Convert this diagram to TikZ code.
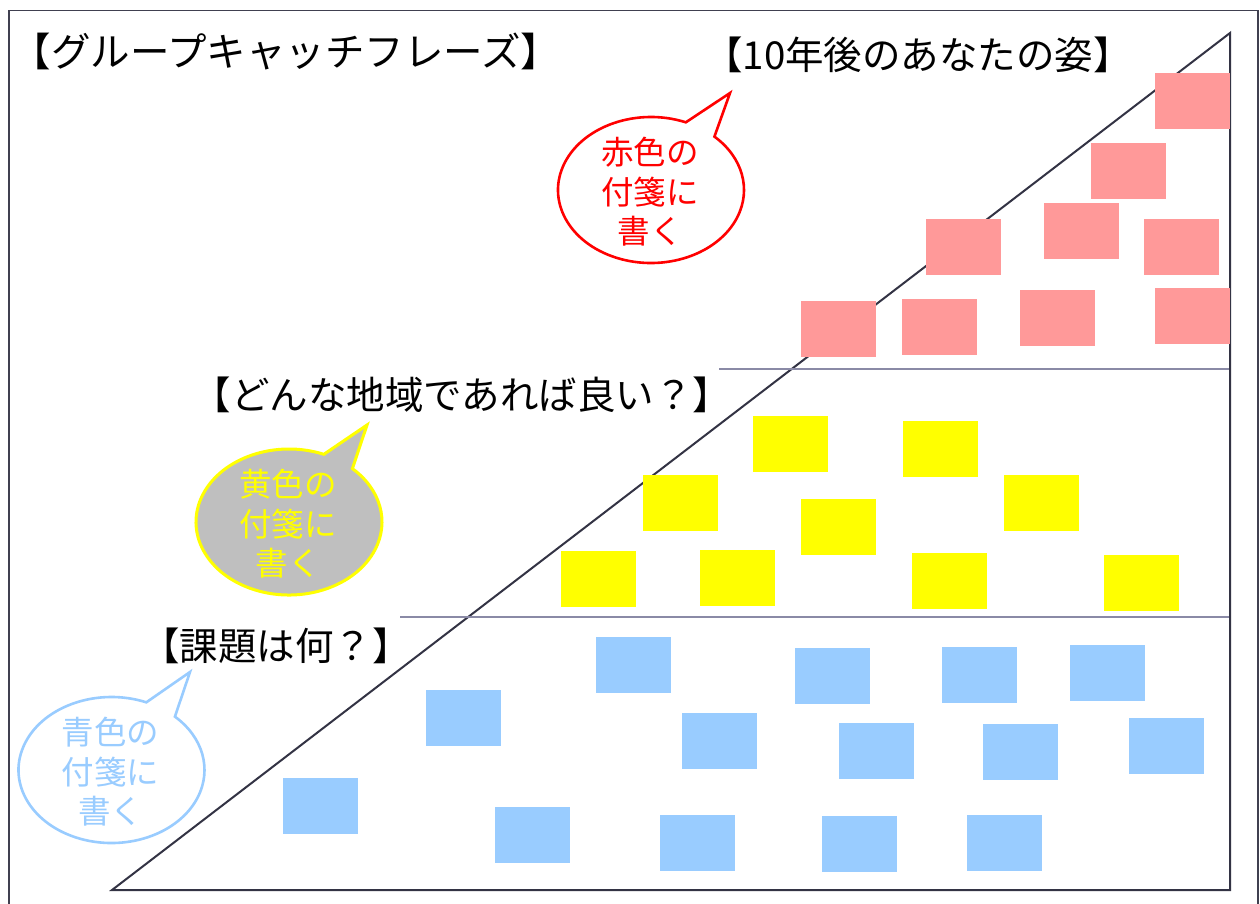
\documentclass[tikz,border=0pt]{standalone}
\usepackage{fontspec}
\newfontfamily\jp{Noto Sans CJK JP}
\usetikzlibrary{calc}
\definecolor{framec}{HTML}{404050}
\definecolor{tric}{HTML}{333344}
\definecolor{hlc}{HTML}{8A8AA6}
\definecolor{notered}{HTML}{FF9999}
\definecolor{noteyellow}{HTML}{FFFF00}
\definecolor{noteblue}{HTML}{99CCFF}
\definecolor{bubblegray}{HTML}{BFBFBF}
\tikzset{
  note/.style={anchor=north west, minimum width=75pt, minimum height=56pt, inner sep=0pt, draw=none},
  rnote/.style={note, fill=notered},
  ynote/.style={note, fill=noteyellow},
  bnote/.style={note, fill=noteblue},
  heading/.style={inner sep=0pt, font=\jp\fontsize{38.5}{44}\selectfont},
  titletext/.style={inner sep=0pt, font=\jp\fontsize{39.5}{46}\selectfont},
  bubbletext/.style={inner sep=0pt, align=center, font=\jp\fontsize{32.5}{39.5}\selectfont},
}
\begin{document}
\begin{tikzpicture}[x=1pt,y=-1pt]
\useasboundingbox (0,0) rectangle (1260,903);
\clip (0,0) rectangle (1260,903);
\fill[white] (0,0) rectangle (1260,903);
% frame
\draw[framec, line width=1.5pt] (9,10.5) rectangle (1258,930);
% triangle
\coordinate (tA) at (1230,33);
\coordinate (tB) at (112,890);
\coordinate (tC) at (1230,890);
\draw[tric, line width=2pt, line join=miter] (tA) -- (tB) -- (tC) -- cycle;
% horizontal dividers
\coordinate (h1a) at (719,369);
\coordinate (h1b) at (1229,369);
\coordinate (h2a) at (400,617);
\coordinate (h2b) at (1229,617);
\draw[hlc, line width=1.4pt] (h1a) -- (h1b);
\draw[hlc, line width=1.4pt] (h2a) -- (h2b);
% red notes
\node[rnote] (r1) at (1155,73) {};
\node[rnote] (r2) at (1091,143) {};
\node[rnote] (r3) at (1044,203) {};
\node[rnote] (r4) at (926,219) {};
\node[rnote] (r5) at (1144,219) {};
\node[rnote] (r6) at (801,301) {};
\node[rnote] (r7) at (902,299) {};
\node[rnote] (r8) at (1020,290) {};
\node[rnote] (r9) at (1155,288) {};
% yellow notes
\node[ynote] (y1) at (753,416) {};
\node[ynote] (y2) at (903,421) {};
\node[ynote] (y3) at (643,475) {};
\node[ynote] (y4) at (801,499) {};
\node[ynote] (y5) at (1004,475) {};
\node[ynote] (y6) at (561,551) {};
\node[ynote] (y7) at (700,550) {};
\node[ynote] (y8) at (912,553) {};
\node[ynote] (y9) at (1104,555) {};
% blue notes
\node[bnote] (b1) at (596,637) {};
\node[bnote] (b2) at (795,648) {};
\node[bnote] (b3) at (942,647) {};
\node[bnote] (b4) at (1070,645) {};
\node[bnote] (b5) at (426,690) {};
\node[bnote] (b6) at (682,713) {};
\node[bnote] (b7) at (839,723) {};
\node[bnote] (b8) at (983,724) {};
\node[bnote] (b9) at (1129,718) {};
\node[bnote] (b10) at (283,778) {};
\node[bnote] (b11) at (495,807) {};
\node[bnote] (b12) at (660,815) {};
\node[bnote] (b13) at (822,816) {};
\node[bnote] (b14) at (967,815) {};
% headings
\node[titletext] (title) at (286,52) {【グループキャッチフレーズ】};
\node[heading] (h10) at (918,55) {【10年後のあなたの姿】};
\node[heading] (hregion) at (462,395) {【どんな地域であれば良い？】};
\node[heading] (hissue) at (276,646) {【課題は何？】};
% bubbles
\coordinate (rc) at (651,190);
\coordinate (yc) at (289,522);
\coordinate (bc) at (111.5,770);
\draw[red, line width=2.6pt, fill=white, line join=miter]
  ($(rc)+(-47:93 and 73)$) -- ($(rc)+(79,-97)$) -- ($(rc)+(-68:93 and 73)$)
  arc[start angle=-68, end angle=-407, x radius=93, y radius=73] -- cycle;
\draw[noteyellow, line width=3pt, fill=bubblegray, line join=miter]
  ($(yc)+(-47:93 and 73)$) -- ($(yc)+(78,-97)$) -- ($(yc)+(-68:93 and 73)$)
  arc[start angle=-68, end angle=-407, x radius=93, y radius=73] -- cycle;
\draw[noteblue, line width=2.6pt, fill=white, line join=miter]
  ($(bc)+(-47:93 and 73)$) -- ($(bc)+(78.5,-98)$) -- ($(bc)+(-68:93 and 73)$)
  arc[start angle=-68, end angle=-407, x radius=93, y radius=73] -- cycle;
\node[bubbletext, text=red] (rtext) at ($(rc)+(-1,2)$) {赤色の\\付箋に\\書く};
\node[bubbletext, text=noteyellow] (ytext) at ($(yc)+(-1,2)$) {黄色の\\付箋に\\書く};
\node[bubbletext, text=noteblue] (btext) at ($(bc)+(-1,2)$) {青色の\\付箋に\\書く};
\end{tikzpicture}
\end{document}
